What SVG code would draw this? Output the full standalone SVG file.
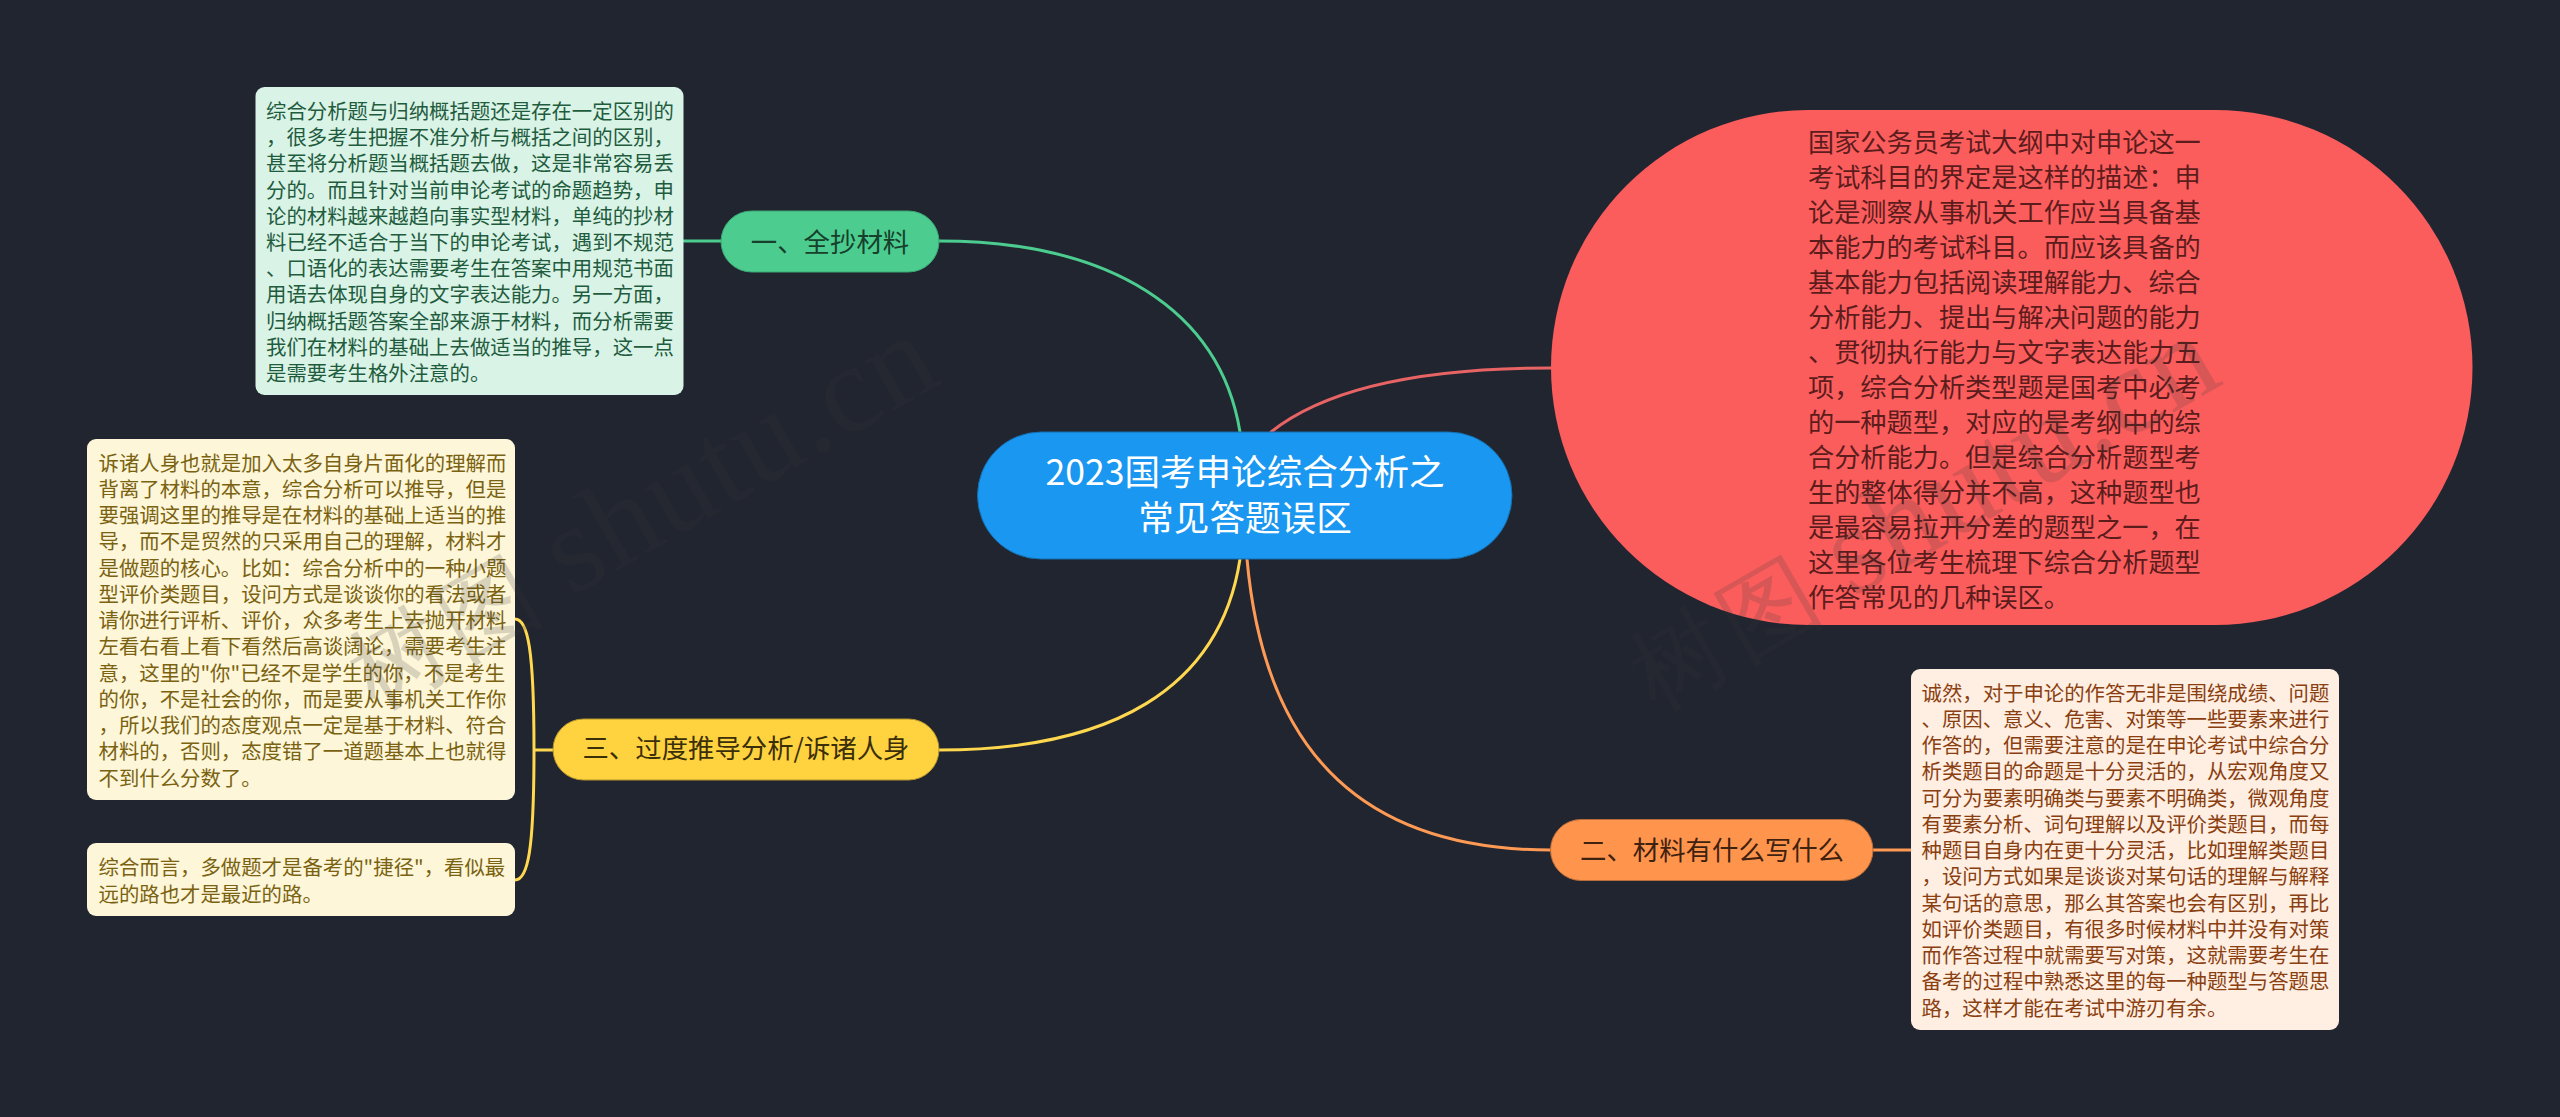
<svg xmlns="http://www.w3.org/2000/svg" width="2560" height="1117" viewBox="0 0 2560 1117">
<style>
text{font-family:"Noto Sans CJK SC","Noto Sans",sans-serif;white-space:pre}
.con{fill:none;stroke-width:3;stroke-linecap:round}
.note{font-size:20.4px}
.pill{font-size:26.4px;text-anchor:middle}
.g{fill:#4ccd8f;stroke:#3aa673}
.y{fill:#ffd23f;stroke:#b5952b}
.o{fill:#ff944d;stroke:#b86c39}
.wm{font-family:"Liberation Serif",serif;fill:#373737;opacity:.18}
.wm-cjk{font-size:95px;letter-spacing:8px}
.wm-lat{font-size:125px;letter-spacing:1.5px}
</style>
<rect width="2560" height="1117" fill="#212530"/>
<g id="connectors">
<path class="con" stroke="#4ccd8f" d="M939 241C1110 241 1220 310 1240 432"/>
<path class="con" stroke="#4ccd8f" d="M684 241H721"/>
<path class="con" stroke="#e86464" d="M1271 432C1330 385 1430 368 1551 368"/>
<path class="con" stroke="#ff9a55" d="M1247 559C1265 760 1370 850 1551 850"/>
<path class="con" stroke="#ff9a55" d="M1873 850H1911"/>
<path class="con" stroke="#ffd84f" d="M1240 559C1220 690 1110 750 939 750"/>
<path class="con" stroke="#ffd84f" d="M515 619C528 619 534 650 534 750C534 850 528 880 515 880M534 750H553"/>
</g>
<g id="root">
<rect x="977.500" y="432" width="534.500" height="127" rx="63.500" fill="#1a97f0" stroke="#146fb0" stroke-width="1"/>
<text x="1245" y="485" font-size="35.600" text-anchor="middle" fill="#fff">2023国考申论综合分析之</text>
<text x="1245" y="531" font-size="35.600" text-anchor="middle" fill="#fff">常见答题误区</text>
</g>
<g id="node-1">
<rect class="g" x="721" y="211" width="218" height="61" rx="30.500"/>
<text class="pill" x="830" y="252" fill="#17402c">一、全抄材料</text>
</g>
<g id="note-1" class="note" fill="#1f5c3e">
<rect x="255.500" y="87" width="428" height="308" rx="9" fill="#d9f3e6"/>
<text x="266" y="119">综合分析题与归纳概括题还是存在一定区别的</text>
<text x="266" y="145">，很多考生把握不准分析与概括之间的区别，</text>
<text x="266" y="171">甚至将分析题当概括题去做，这是非常容易丢</text>
<text x="266" y="197.500">分的。而且针对当前申论考试的命题趋势，申</text>
<text x="266" y="223.500">论的材料越来越趋向事实型材料，单纯的抄材</text>
<text x="266" y="250">料已经不适合于当下的申论考试，遇到不规范</text>
<text x="266" y="276">、口语化的表达需要考生在答案中用规范书面</text>
<text x="266" y="302">用语去体现自身的文字表达能力。另一方面，</text>
<text x="266" y="328.500">归纳概括题答案全部来源于材料，而分析需要</text>
<text x="266" y="354.500">我们在材料的基础上去做适当的推导，这一点</text>
<text x="266" y="381">是需要考生格外注意的。</text>
</g>
<g id="node-2">
<rect class="o" x="1550.500" y="819.500" width="322.500" height="61" rx="30.500"/>
<text class="pill" x="1712" y="860" fill="#3f2110">二、材料有什么写什么</text>
</g>
<g id="note-2" class="note" fill="#8a3f10">
<rect x="1911" y="669" width="428" height="361" rx="9" fill="#ffeee2"/>
<text x="1921.500" y="700.500">诚然，对于申论的作答无非是围绕成绩、问题</text>
<text x="1921.500" y="726.500">、原因、意义、危害、对策等一些要素来进行</text>
<text x="1921.500" y="753">作答的，但需要注意的是在申论考试中综合分</text>
<text x="1921.500" y="779">析类题目的命题是十分灵活的，从宏观角度又</text>
<text x="1921.500" y="805.500">可分为要素明确类与要素不明确类，微观角度</text>
<text x="1921.500" y="831.500">有要素分析、词句理解以及评价类题目，而每</text>
<text x="1921.500" y="858">种题目自身内在更十分灵活，比如理解类题目</text>
<text x="1921.500" y="884">，设问方式如果是谈谈对某句话的理解与解释</text>
<text x="1921.500" y="910.500">某句话的意思，那么其答案也会有区别，再比</text>
<text x="1921.500" y="936.500">如评价类题目，有很多时候材料中并没有对策</text>
<text x="1921.500" y="963">而作答过程中就需要写对策，这就需要考生在</text>
<text x="1921.500" y="989">备考的过程中熟悉这里的每一种题型与答题思</text>
<text x="1921.500" y="1015.500">路，这样才能在考试中游刃有余。</text>
</g>
<g id="node-3">
<rect class="y" x="553" y="719" width="386" height="61" rx="30.500"/>
<text class="pill" x="746" y="758" fill="#3a2f08">三、过度推导分析/诉诸人身</text>
</g>
<g id="note-3a" class="note" fill="#7a6210">
<rect x="87" y="439" width="428" height="361" rx="9" fill="#fdf6d9"/>
<text x="98.500" y="470.500">诉诸人身也就是加入太多自身片面化的理解而</text>
<text x="98.500" y="496.500">背离了材料的本意，综合分析可以推导，但是</text>
<text x="98.500" y="523">要强调这里的推导是在材料的基础上适当的推</text>
<text x="98.500" y="549">导，而不是贸然的只采用自己的理解，材料才</text>
<text x="98.500" y="575.500">是做题的核心。比如：综合分析中的一种小题</text>
<text x="98.500" y="601.500">型评价类题目，设问方式是谈谈你的看法或者</text>
<text x="98.500" y="628">请你进行评析、评价，众多考生上去抛开材料</text>
<text x="98.500" y="654">左看右看上看下看然后高谈阔论，需要考生注</text>
<text x="98.500" y="680.500">意，这里的"你"已经不是学生的你，不是考生</text>
<text x="98.500" y="706.500">的你，不是社会的你，而是要从事机关工作你</text>
<text x="98.500" y="733">，所以我们的态度观点一定是基于材料、符合</text>
<text x="98.500" y="759">材料的，否则，态度错了一道题基本上也就得</text>
<text x="98.500" y="785.500">不到什么分数了。</text>
</g>
<g id="note-3b" class="note" fill="#7a6210">
<rect x="87" y="843" width="428" height="73" rx="9" fill="#fdf6d9"/>
<text x="98.500" y="875">综合而言，多做题才是备考的"捷径"，看似最</text>
<text x="98.500" y="902">远的路也才是最近的路。</text>
</g>
<g id="node-red" font-size="26.200" fill="#5c1c1c">
<rect x="1551" y="110" width="921.500" height="515" rx="257.500" fill="#fb5d5d"/>
<text x="1808" y="151.500">国家公务员考试大纲中对申论这一</text>
<text x="1808" y="186.500">考试科目的界定是这样的描述：申</text>
<text x="1808" y="221.500">论是测察从事机关工作应当具备基</text>
<text x="1808" y="256.500">本能力的考试科目。而应该具备的</text>
<text x="1808" y="291.500">基本能力包括阅读理解能力、综合</text>
<text x="1808" y="326.500">分析能力、提出与解决问题的能力</text>
<text x="1808" y="361.500">、贯彻执行能力与文字表达能力五</text>
<text x="1808" y="396.500">项，综合分析类型题是国考中必考</text>
<text x="1808" y="431.500">的一种题型，对应的是考纲中的综</text>
<text x="1808" y="466.500">合分析能力。但是综合分析题型考</text>
<text x="1808" y="501.500">生的整体得分并不高，这种题型也</text>
<text x="1808" y="536.500">是最容易拉开分差的题型之一，在</text>
<text x="1808" y="571.500">这里各位考生梳理下综合分析题型</text>
<text x="1808" y="606.500">作答常见的几种误区。</text>
</g>
<g id="watermark">
<text class="wm" transform="translate(1655 712) rotate(-30)"><tspan class="wm-cjk">树图</tspan><tspan class="wm-lat" dx="22">shutu.cn</tspan></text>
<text class="wm" transform="translate(374 711) rotate(-30)"><tspan class="wm-cjk">树图</tspan><tspan class="wm-lat" dx="22">shutu.cn</tspan></text>
</g>
</svg>
